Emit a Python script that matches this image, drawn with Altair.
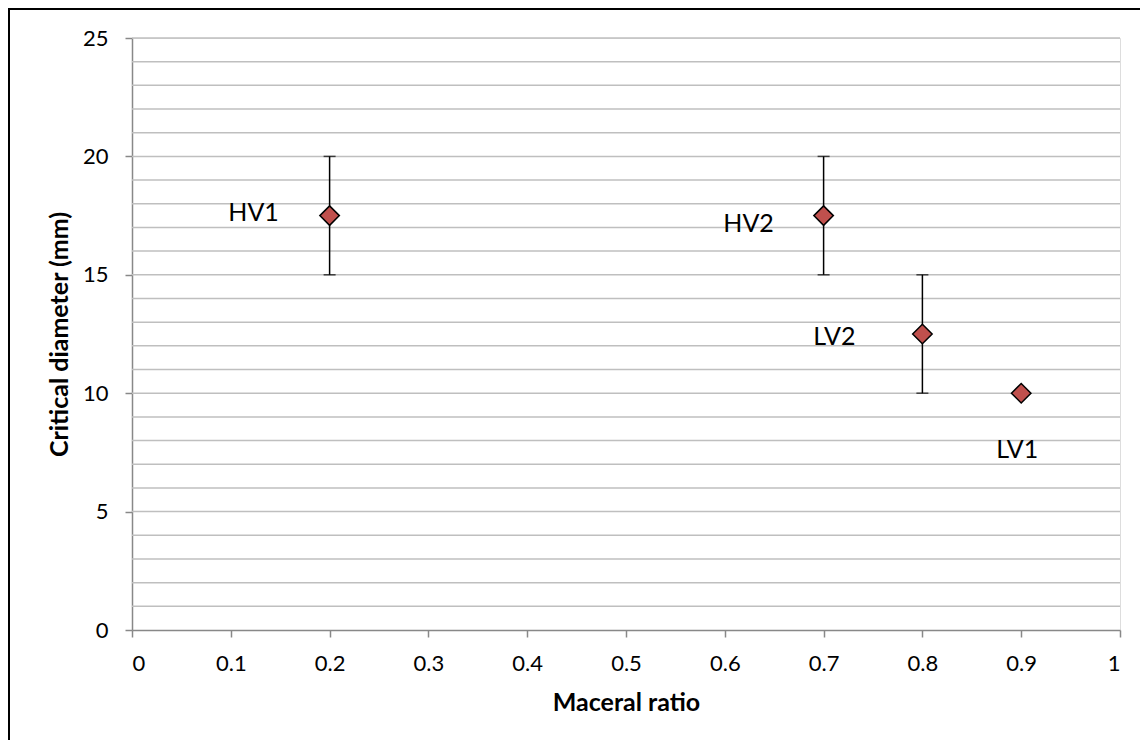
import altair as alt
import pandas as pd

# Data
samples = ["HV1", "HV2", "LV2", "LV1"]
maceral_ratio = [0.2, 0.7, 0.8, 0.9]
critical_diameter = [17.5, 17.5, 12.5, 10.0]
err_low = [15.0, 15.0, 10.0, 10.0]
err_high = [20.0, 20.0, 15.0, 10.0]

y_major_ticks = [0, 5, 10, 15, 20, 25]
x_ticks = [0, 0.1, 0.2, 0.3, 0.4, 0.5, 0.6, 0.7, 0.8, 0.9, 1.0]
y_grid = [1, 2, 3, 4, 5, 6, 7, 8, 9, 10, 11, 12, 13, 14, 15, 16, 17, 18, 19, 20,
          21, 22, 23, 24, 25]

df = pd.DataFrame({
    "sample": samples,
    "ratio": maceral_ratio,
    "diam": critical_diameter,
    "lo": err_low,
    "hi": err_high,
})
grid_df = pd.DataFrame({"g": y_grid})

# label placement (pixel offsets, layout only)
label_offsets = {"HV1": (-76, -3), "HV2": (-75, 8), "LV2": (-88, 3), "LV1": (-4, 57)}

FONT = "Lato"
W, H = 988, 592

xscale = alt.Scale(domain=[0, 1], nice=False)
yscale = alt.Scale(domain=[0, 25], nice=False)

xaxis = alt.Axis(
    values=x_ticks,
    format="~g",
    grid=False,
    title="Maceral ratio",
    titleFont=FONT, titleFontSize=25, titleFontWeight="bold", titleColor="#000",
    titlePadding=16,
    labelFont=FONT, labelFontSize=22, labelColor="#000", labelPadding=16,
    tickSize=7, tickColor="#888888", tickWidth=1.5,
    domainColor="#888888", domainWidth=1.5, labelOverlap=False,
)
yaxis = alt.Axis(
    values=y_major_ticks,
    grid=False,
    title="Critical diameter (mm)",
    titleFont=FONT, titleFontSize=25, titleFontWeight="bold", titleColor="#000",
    titlePadding=10,
    labelFont=FONT, labelFontSize=22, labelColor="#000", labelPadding=17,
    tickSize=7, tickColor="#888888", tickWidth=1.5,
    domainColor="#888888", domainWidth=1.5, labelOverlap=False,
)

base = alt.Chart(df)

grid = alt.Chart(grid_df).mark_rule(color="#bfbfbf", strokeWidth=1.5).encode(
    y=alt.Y("g:Q", scale=yscale, axis=yaxis),
    x=alt.value(0), x2=alt.value(W),
)

bars = base.transform_filter("datum.hi > datum.lo").mark_rule(color="black", strokeWidth=1.5).encode(
    x=alt.X("ratio:Q", scale=xscale, axis=xaxis),
    y=alt.Y("lo:Q", scale=yscale, axis=yaxis),
    y2="hi:Q",
)
cap_lo = base.transform_filter("datum.hi > datum.lo").mark_tick(
    orient="horizontal", color="black", thickness=1.5, size=12
).encode(x="ratio:Q", y="lo:Q")
cap_hi = base.transform_filter("datum.hi > datum.lo").mark_tick(
    orient="horizontal", color="black", thickness=1.5, size=12
).encode(x="ratio:Q", y="hi:Q")

points = base.mark_point(
    shape="diamond", filled=True, fill="#C0504D", stroke="black",
    strokeWidth=1.5, size=380, opacity=1,
).encode(x="ratio:Q", y="diam:Q")

labels = []
for s in samples:
    dx, dy = label_offsets[s]
    labels.append(
        base.transform_filter(alt.datum.sample == s).mark_text(
            font=FONT, fontSize=25, color="#000", dx=dx, dy=dy,
            align="center", baseline="middle",
        ).encode(x="ratio:Q", y="diam:Q", text="sample:N")
    )

border = alt.Chart(pd.DataFrame({"a": [0]})).mark_rect(
    fill=None, stroke="black", strokeWidth=2,
).encode(
    x=alt.value(-123), x2=alt.value(W + 40),
    y=alt.value(-29), y2=alt.value(H + 140),
)

chart = alt.layer(border, grid, bars, cap_lo, cap_hi, points, *labels).properties(
    width=W, height=H,
    autosize=alt.AutoSizeParams(type="none"),
    padding={"left": 124, "top": 30, "right": 20, "bottom": 110},
).configure_view(stroke=None).configure(background="white")

chart.save("out.html", embed_options={"renderer": "svg", "actions": False})
